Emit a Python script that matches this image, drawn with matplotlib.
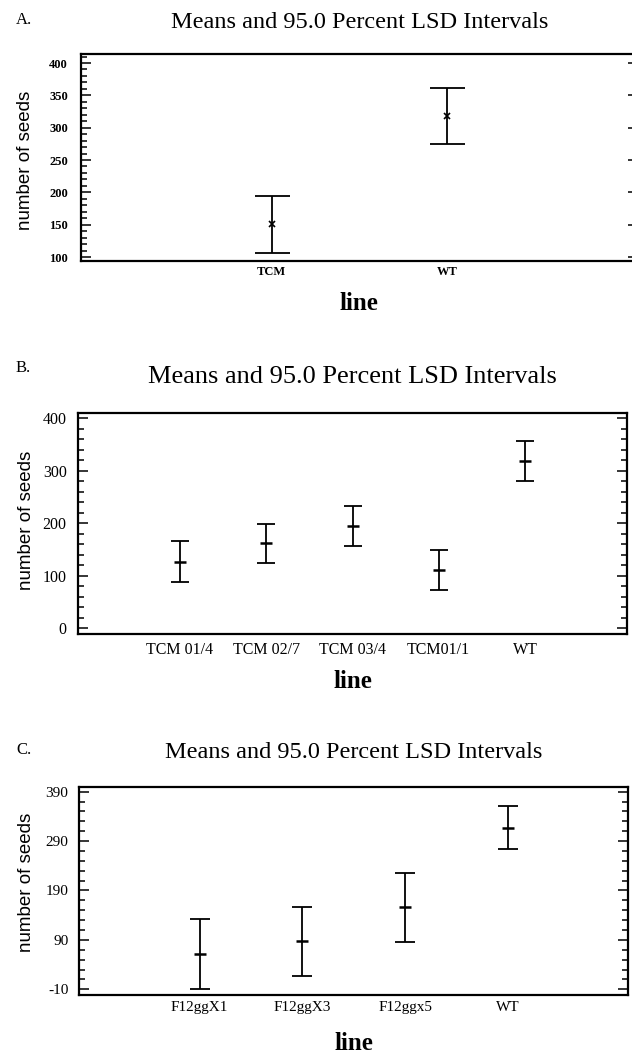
import matplotlib
matplotlib.use("Agg")
import matplotlib.pyplot as plt
from matplotlib.ticker import FixedLocator
import numpy as np

plt.rcParams["axes.unicode_minus"] = False

# ---------------- data ----------------
A_lines = ["TCM", "WT"]
A_means = [151, 318]
A_lower = [106, 275]
A_upper = [195, 362]

B_lines = ["TCM 01/4", "TCM 02/7", "TCM 03/4", "TCM01/1", "WT"]
B_means = [127, 163, 195, 110, 319]
B_lower = [89, 125, 156, 72, 280]
B_upper = [166, 199, 233, 149, 357]

C_lines = ["F12ggX1", "F12ggX3", "F12ggx5", "WT"]
C_means = [61, 88, 156, 317]
C_lower = [-10, 17, 86, 273]
C_upper = [132, 157, 226, 361]

title_text = "Means and 95.0 Percent LSD Intervals"
ylabel_text = "number of seeds"
xlabel_text = "line"
# --------------------------------------

W, H = 632, 1057
fig = plt.figure(figsize=(W / 100, H / 100), dpi=100)
fig.patch.set_facecolor("white")

SERIF = ["Liberation Serif", "DejaVu Serif"]
SANS = ["Liberation Sans", "DejaVu Sans"]

panels = [
    dict(letter="A.", lines=A_lines, means=A_means, lower=A_lower, upper=A_upper,
         box=(80.7, 54.3, 638.0, 260.7), xlim=(-0.089, 3.089), ylim=(94.3, 413.5),
         major=np.arange(100, 401, 50), minor=10, tick_fs=9, tick_w="bold",
         ytick_pad=9.1, xtick_pad=3.6, capsize=12.6, marker="x", msize=4, mew=1.2,
         title_y=22, title_fs=17.5, letter_y=20, xlab_y=304,
         ylab=(26, 160.7)),
    dict(letter="B.", lines=B_lines, means=B_means, lower=B_lower, upper=B_upper,
         box=(78.3, 413.0, 626.7, 634.0), xlim=(-0.18, 6.18), ylim=(-10.8, 409.5),
         major=np.arange(0, 401, 100), minor=20, tick_fs=11.5, tick_w="normal",
         ytick_pad=8.4, xtick_pad=5.8, capsize=6.3, marker="_", msize=8, mew=1.8,
         title_y=377, title_fs=19, letter_y=368, xlab_y=682,
         ylab=(27, 520)),
    dict(letter="C.", lines=C_lines, means=C_means, lower=C_lower, upper=C_upper,
         box=(79.3, 786.7, 628.3, 995.0), xlim=(-0.17, 5.17), ylim=(-21.5, 400),
         major=np.arange(-10, 391, 100), minor=20, tick_fs=11, tick_w="normal",
         ytick_pad=7.9, xtick_pad=4.0, capsize=7.2, marker="_", msize=8, mew=1.8,
         title_y=753, title_fs=17.5, letter_y=750, xlab_y=1043,
         ylab=(27, 882.5)),
]

for p in panels:
    l, t, r, b = p["box"]
    ax = fig.add_axes([l / W, 1 - b / H, (r - l) / W, (b - t) / H])
    x = np.arange(1, len(p["lines"]) + 1)
    means = np.array(p["means"], dtype=float)
    lower = np.array(p["lower"], dtype=float)
    upper = np.array(p["upper"], dtype=float)
    ax.errorbar(x, means, yerr=[means - lower, upper - means], fmt="none",
                ecolor="black", elinewidth=1.3, capsize=p["capsize"], capthick=1.3)
    ax.plot(x, means, linestyle="none", marker=p["marker"], color="black",
            markersize=p["msize"], markeredgewidth=p["mew"])

    ax.set_xlim(*p["xlim"])
    ax.set_ylim(*p["ylim"])
    ax.set_xticks(x)
    ax.set_xticklabels(p["lines"], fontfamily=SERIF, fontsize=p["tick_fs"],
                       fontweight=p["tick_w"])
    ax.yaxis.set_major_locator(FixedLocator(p["major"]))
    lo = p["major"][0] - 10 * p["minor"]
    ax.yaxis.set_minor_locator(FixedLocator(np.arange(lo, p["ylim"][1], p["minor"])))
    for lab in ax.get_yticklabels():
        lab.set_fontfamily(SERIF)
        lab.set_fontsize(p["tick_fs"])
        lab.set_fontweight(p["tick_w"])

    ax.tick_params(axis="y", which="both", direction="in", left=True, right=True,
                   width=1.1, color="black")
    ax.tick_params(axis="y", which="major", length=7.2, pad=p["ytick_pad"])
    ax.tick_params(axis="y", which="minor", length=4.3)
    ax.tick_params(axis="x", which="both", length=0, pad=p["xtick_pad"])
    for s in ax.spines.values():
        s.set_linewidth(1.6)
        s.set_color("black")

    # title
    ty = (b - p["title_y"]) / (b - t)
    ax.set_title(title_text, x=0.5, y=ty, pad=0, va="center", fontfamily=SERIF,
                 fontsize=p["title_fs"])
    # axis labels
    ax.set_xlabel(xlabel_text, fontfamily=SERIF, fontsize=18, fontweight="bold",
                  va="center")
    ax.xaxis.set_label_coords(((l + r) / 2) / W, 1 - p["xlab_y"] / H,
                              transform=fig.transFigure)
    ax.set_ylabel(ylabel_text, fontfamily=SANS, fontsize=13.5, va="center")
    ax.yaxis.set_label_coords(p["ylab"][0] / W, 1 - p["ylab"][1] / H,
                              transform=fig.transFigure)
    # panel letter
    fig.text(16 / W, 1 - p["letter_y"] / H, p["letter"], ha="left", va="center",
             fontfamily=SERIF, fontsize=12)

fig.savefig("out.png", dpi=100, facecolor="white")
